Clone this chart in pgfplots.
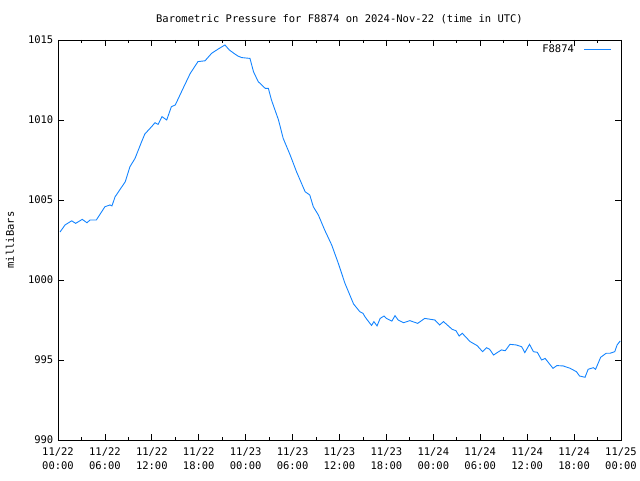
\documentclass[border=0pt]{standalone}
\usepackage{pgfplots}
\pgfplotsset{compat=1.18}
\usepackage{fontspec}
\setmainfont{DejaVu Sans Mono}
\definecolor{gpblue}{RGB}{20,132,255}
\begin{document}
\fontsize{10.5}{12}\selectfont
\begin{tikzpicture}
\begin{axis}[
  scale only axis,
  width=563pt, height=400pt,
  at={(0,0)}, anchor=south west,
  xmin=0, xmax=72, ymin=990, ymax=1015,
  xtick={0,6,...,72},
  xticklabels={{11/22\\00:00},{11/22\\06:00},{11/22\\12:00},{11/22\\18:00},{11/23\\00:00},{11/23\\06:00},{11/23\\12:00},{11/23\\18:00},{11/24\\00:00},{11/24\\06:00},{11/24\\12:00},{11/24\\18:00},{11/25\\00:00}},
  xticklabel style={align=center, font=\fontsize{10.5}{14}\selectfont, yshift=-4pt},
  yticklabel style={font=\fontsize{10.5}{12}\selectfont, xshift=-1pt},
  minor x tick num=1,
  ytick={990,995,...,1015},
  /pgf/number format/assume math mode=true,
  /pgf/number format/1000 sep={},
  tick align=inside,
  major tick length=6pt,
  minor tick length=3pt,
  tick style={black, line width=0.8pt},
  axis line style={line width=0.8pt},
  legend style={draw=none, fill=none, at={(rel axis cs:1,1)}, anchor=north east, xshift=-6pt, yshift=-1pt, font=\fontsize{10.5}{12}\selectfont},
  legend plot pos=right,
  legend cell align=right,
  legend image code/.code={\path (0pt,0pt); \draw[#1] (8pt,0pt) -- (35pt,0pt);},
  clip mode=individual,
]
\addplot[color=gpblue, line width=0.9pt, mark=none] coordinates {
(0.26,1003.0) (0.9,1003.44) (1.75,1003.7) (2.26,1003.54) (3.1,1003.79) (3.7,1003.58)
(4.1,1003.75) (4.9,1003.75) (6.0,1004.58) (6.65,1004.69) (6.9,1004.63) (7.3,1005.2)
(8.6,1006.14) (9.2,1007.08) (9.85,1007.6) (10.7,1008.65) (11.1,1009.12) (12.0,1009.6)
(12.4,1009.83) (12.8,1009.73) (13.3,1010.21) (13.9,1010.0) (14.5,1010.83) (15.0,1010.94)
(16.0,1011.98) (16.9,1012.9) (17.9,1013.65) (18.8,1013.7) (19.65,1014.17) (20.5,1014.44)
(21.35,1014.69) (21.9,1014.38) (22.6,1014.13) (23.0,1014.0) (23.5,1013.9) (24.55,1013.85)
(25.0,1013.02) (25.6,1012.4) (26.5,1011.98) (26.9,1011.98) (27.3,1011.25) (28.2,1010.0)
(28.8,1008.85) (29.7,1007.8) (30.5,1006.77) (31.6,1005.52) (32.2,1005.31) (32.65,1004.58)
(33.3,1004.06) (34.1,1003.13) (35.0,1002.19) (35.85,1001.04) (36.7,999.79) (37.8,998.5)
(38.6,998.02) (39.0,997.92) (39.25,997.71) (39.5,997.54) (40.1,997.16) (40.4,997.4)
(40.8,997.13) (41.2,997.6) (41.7,997.75) (42.0,997.6) (42.7,997.43) (43.1,997.77)
(43.5,997.5) (44.2,997.33) (45.0,997.46) (46.0,997.29) (46.9,997.6) (48.2,997.5)
(48.8,997.19) (49.3,997.4) (50.4,996.92) (50.9,996.83) (51.3,996.5) (51.7,996.67)
(52.7,996.15) (53.6,995.9) (54.3,995.52) (54.8,995.77) (55.2,995.67) (55.7,995.31)
(56.7,995.63) (57.2,995.58) (57.8,995.98) (58.6,995.94) (59.3,995.83) (59.7,995.46)
(60.3,995.98) (60.8,995.52) (61.3,995.48) (61.85,995.0) (62.3,995.1) (63.3,994.48)
(63.8,994.65) (64.6,994.63) (65.5,994.48) (66.3,994.27) (66.7,994.0) (67.4,993.92)
(67.8,994.42) (68.45,994.52) (68.75,994.42) (69.4,995.17) (70.1,995.42) (70.6,995.42)
(71.2,995.52) (71.5,995.94) (71.9,996.19)
};
\addlegendentry{F8874}
\end{axis}
\node[font=\fontsize{10.5}{12}\selectfont] at (281.5pt,421pt) {Barometric Pressure for F8874 on 2024-Nov-22 (time in UTC)};
\node[rotate=90, font=\fontsize{10.5}{12}\selectfont] at (-48pt,200pt) {milliBars};
\pgfresetboundingbox
\path[use as bounding box] (-58pt,-40pt) rectangle (582pt,440pt);
\end{tikzpicture}
\end{document}
